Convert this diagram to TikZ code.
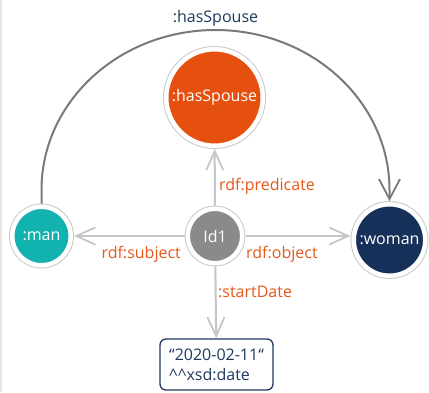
\documentclass[tikz,border=0pt]{standalone}
\usepackage{fontspec}
\setmainfont{Open Sans}
\usetikzlibrary{arrows.meta}
\definecolor{cOrange}{HTML}{E5500F}
\definecolor{cLabel}{HTML}{E8581A}
\definecolor{cTeal}{HTML}{12B3AF}
\definecolor{cNavy}{HTML}{17305A}
\definecolor{cGrayNode}{HTML}{8A8A8A}
\definecolor{cLine}{HTML}{C6C6C6}
\definecolor{cArc}{HTML}{7A7A7A}
\definecolor{cRing}{HTML}{CACACA}
\definecolor{cText}{HTML}{1F3A5F}
\begin{document}
\begin{tikzpicture}[x=1pt,y=-1pt,
  txt/.style={font=\fontsize{16}{20}\selectfont},
  res/.style={txt, circle, inner sep=0pt, minimum size=#1, text=white,
    draw=white, line width=4.5pt, outer sep=3.25pt,
    preaction={draw=cRing, line width=6.5pt}},
  lbl/.style={txt, text=cLabel, inner sep=0pt},
  conn/.style={draw=cLine, line width=2pt,
    -{Straight Barb[length=19pt, width=17pt, line width=1.8pt]}},
  arcline/.style={draw=cArc, line width=2pt,
    -{Straight Barb[length=20pt, width=21pt, line width=1.8pt]}},
  datebox/.style={txt, draw=cText, line width=1.3pt, rounded corners=6pt,
    minimum width=113pt, minimum height=51pt, align=left, text=cText,
    inner sep=0pt}
]
\useasboundingbox[fill=white] (0,0) rectangle (429,392);
\draw[draw=black!10, line width=1.5pt] (0.75,0) -- (0.75,392);

\node[res=96.5pt, fill=cOrange] (has) at (214.5,97.5) {:hasSpouse};
\node[res=54.5pt, fill=cGrayNode] (id) at (215,236) {Id1};
\node[res=58.5pt, fill=cTeal] (man) at (41.5,236) {:man};
\node[res=71.5pt, fill=cNavy] (woman) at (389.5,240) {:woman};
\node[datebox] (date) at (216.5,364.5) {“2020-02-11“\\\textasciicircum\textasciicircum xsd:date};

\draw[conn] (id) -- (has);
\draw[conn] (id) -- (man);
\draw[conn] (id.east) -- (id.east -| woman.west);
\draw[conn] (id) -- (date);

\draw[arcline] (man.north) -- ++(0,-13.5)
  arc[start angle=180, end angle=0, x radius=174pt, y radius=160pt]
  -- (woman.north);

\node[txt, text=cText, inner sep=0pt] (top) at (215.5,18) {:hasSpouse};
\node[lbl, anchor=west] (lpred) at (219,186) {rdf:predicate};
\node[lbl, anchor=east] (lsubj) at (181,254) {rdf:subject};
\node[lbl, anchor=west] (lobj) at (246,254) {rdf:object};
\node[lbl, anchor=west] (lstart) at (218,292) {:startDate};
\end{tikzpicture}
\end{document}
